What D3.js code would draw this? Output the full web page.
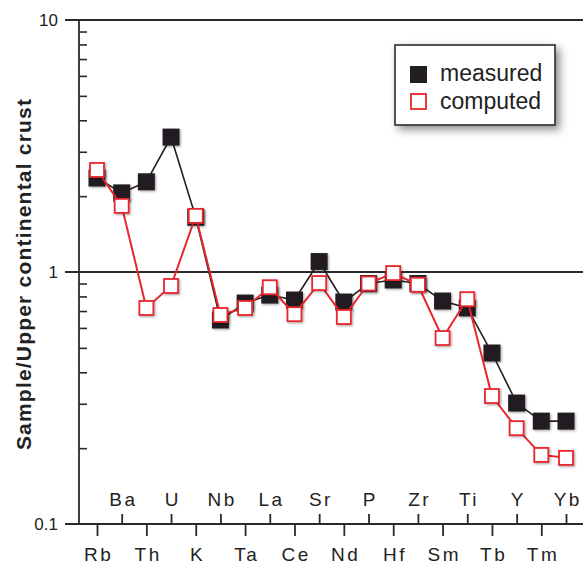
<!doctype html>
<html lang="en">
<head>
<meta charset="utf-8">
<title>Sample / Upper continental crust</title>
<script src="https://cdn.jsdelivr.net/npm/d3@7"></script>
<style>
  body { margin: 0; background: #fff; }
  svg { display: block; font-family: "Liberation Sans", Arial, Helvetica, sans-serif; }
</style>
</head>
<body>
<div id="chart"></div>
<script>
// element order along the x axis
var elements = ["Rb","Ba","Th","U","K","Nb","Ta","La","Ce","Sr","Nd","P","Hf","Zr","Sm","Ti","Tb","Y","Tm","Yb"];
// sample / upper continental crust
var measured = [2.36, 2.06, 2.28, 3.43, 1.65, 0.645, 0.753, 0.81, 0.774, 1.10, 0.76, 0.90, 0.93, 0.90, 0.767, 0.72, 0.477, 0.302, 0.256, 0.256];
var computed = [2.54, 1.83, 0.72, 0.88, 1.67, 0.675, 0.72, 0.87, 0.68, 0.904, 0.663, 0.90, 0.99, 0.89, 0.547, 0.78, 0.322, 0.24, 0.188, 0.183];
var majorTicks = [0.1, 1, 10];
var majorLabels = ["0.1", "1", "10"];

var W = 583, H = 565;
var axisCol = "#2a2a2a", blackCol = "#231f20", redCol = "#e8262d";

var svg = d3.select("#chart").append("svg")
  .attr("width", W).attr("height", H);

var defs = svg.append("defs");
var sh = defs.append("filter").attr("id", "markShadow")
  .attr("x", "-30%").attr("y", "-30%").attr("width", "170%").attr("height", "170%");
sh.append("feDropShadow").attr("dx", 1.2).attr("dy", 1.2).attr("stdDeviation", 0.8)
  .attr("flood-color", "#000").attr("flood-opacity", 0.35);
var lsh = defs.append("filter").attr("id", "legendShadow")
  .attr("x", "-20%").attr("y", "-30%").attr("width", "150%").attr("height", "170%");
lsh.append("feDropShadow").attr("dx", 4).attr("dy", 4).attr("stdDeviation", 4)
  .attr("flood-color", "#000").attr("flood-opacity", 0.45);

var x = d3.scalePoint().domain(elements).range([97, 566]);
var y = d3.scaleLog().domain([0.1, 10]).range([524, 20]);

// minor ticks, pointing inwards from the left axis
var minor = [];
[0.1, 1].forEach(function(d) { for (var k = 2; k <= 9; k++) minor.push(d * k); });
svg.append("g")
  .attr("transform", "translate(79,0)")
  .call(d3.axisRight(y).tickValues(minor).tickSize(8).tickFormat(""))
  .call(function(g) {
    g.select(".domain").remove();
    g.selectAll("line").attr("stroke", axisCol).attr("stroke-width", 1.6);
  });

// full width lines at 0.1, 1 and 10
svg.append("g").selectAll("line")
  .data(majorTicks)
  .enter().append("line")
  .attr("x1", 65).attr("x2", W)
  .attr("y1", function(d) { return y(d); })
  .attr("y2", function(d) { return y(d); })
  .attr("stroke", axisCol).attr("stroke-width", 1.8);

svg.append("g").selectAll("text")
  .data(majorTicks)
  .enter().append("text")
  .attr("x", 58)
  .attr("y", function(d) { return y(d); })
  .attr("dy", "0.36em")
  .attr("text-anchor", "end")
  .attr("font-size", 17)
  .attr("fill", "#222")
  .text(function(d, i) { return majorLabels[i]; });

// left axis line
svg.append("line")
  .attr("x1", 79).attr("x2", 79)
  .attr("y1", y(10)).attr("y2", y(0.1))
  .attr("stroke", axisCol).attr("stroke-width", 1.8);

// staggered element labels: odd ones on top of the axis, even ones below
var lower = elements.filter(function(d, i) { return i % 2 === 0; });
var upper = elements.filter(function(d, i) { return i % 2 === 1; });

svg.append("g")
  .attr("transform", "translate(0," + y(0.1) + ")")
  .call(d3.axisBottom(x).tickValues(lower).tickSize(12).tickPadding(12).tickSizeOuter(0))
  .call(function(g) {
    g.select(".domain").remove();
    g.selectAll("line").attr("stroke", axisCol).attr("stroke-width", 1.8);
    g.selectAll("text").attr("font-size", 19).attr("letter-spacing", "2.5px")
      .attr("dx", "1.25px").attr("fill", "#222").attr("font-family", null);
  });

svg.append("g")
  .attr("transform", "translate(0," + y(0.1) + ")")
  .call(d3.axisTop(x).tickValues(upper).tickSize(10).tickPadding(8).tickSizeOuter(0))
  .call(function(g) {
    g.select(".domain").remove();
    g.selectAll("line").attr("stroke", axisCol).attr("stroke-width", 1.8);
    g.selectAll("text").attr("font-size", 19).attr("letter-spacing", "2.5px")
      .attr("dx", "1.25px").attr("fill", "#222").attr("font-family", null);
  });

// y axis title
svg.append("text")
  .attr("transform", "translate(31,274) rotate(-90)")
  .attr("text-anchor", "middle")
  .attr("font-size", 21)
  .attr("font-weight", "bold")
  .attr("letter-spacing", "1.2px")
  .attr("fill", "#222")
  .text("Sample/Upper continental crust");

var line = d3.line()
  .x(function(d, i) { return x(elements[i]); })
  .y(function(d) { return y(d); });

// measured series
svg.append("path")
  .datum(measured)
  .attr("d", line)
  .attr("fill", "none")
  .attr("stroke", blackCol)
  .attr("stroke-width", 1.6);

svg.append("g").selectAll("rect")
  .data(measured)
  .enter().append("rect")
  .attr("x", function(d, i) { return x(elements[i]) - 8.5; })
  .attr("y", function(d) { return y(d) - 8.5; })
  .attr("width", 17).attr("height", 17)
  .attr("fill", blackCol)
  .attr("filter", "url(#markShadow)");

// computed series
svg.append("path")
  .datum(computed)
  .attr("d", line)
  .attr("fill", "none")
  .attr("stroke", redCol)
  .attr("stroke-width", 2);

svg.append("g").selectAll("rect")
  .data(computed)
  .enter().append("rect")
  .attr("x", function(d, i) { return x(elements[i]) - 7; })
  .attr("y", function(d) { return y(d) - 7; })
  .attr("width", 14).attr("height", 14)
  .attr("fill", "#fff")
  .attr("stroke", redCol)
  .attr("stroke-width", 1.8)
  .attr("filter", "url(#markShadow)");

// legend
var lg = svg.append("g");
lg.append("rect")
  .attr("x", 395).attr("y", 45)
  .attr("width", 160).attr("height", 80)
  .attr("fill", "#fff")
  .attr("stroke", axisCol).attr("stroke-width", 1.6)
  .attr("filter", "url(#legendShadow)");
lg.append("rect")
  .attr("x", 410).attr("y", 66).attr("width", 17).attr("height", 17)
  .attr("fill", blackCol);
lg.append("rect")
  .attr("x", 411).attr("y", 94).attr("width", 15).attr("height", 15)
  .attr("fill", "#fff").attr("stroke", redCol).attr("stroke-width", 1.8);
lg.append("text")
  .attr("x", 440).attr("y", 81)
  .attr("font-size", 23).attr("fill", "#222")
  .text("measured");
lg.append("text")
  .attr("x", 440).attr("y", 109)
  .attr("font-size", 23).attr("fill", "#222")
  .text("computed");
</script>
</body>
</html>
